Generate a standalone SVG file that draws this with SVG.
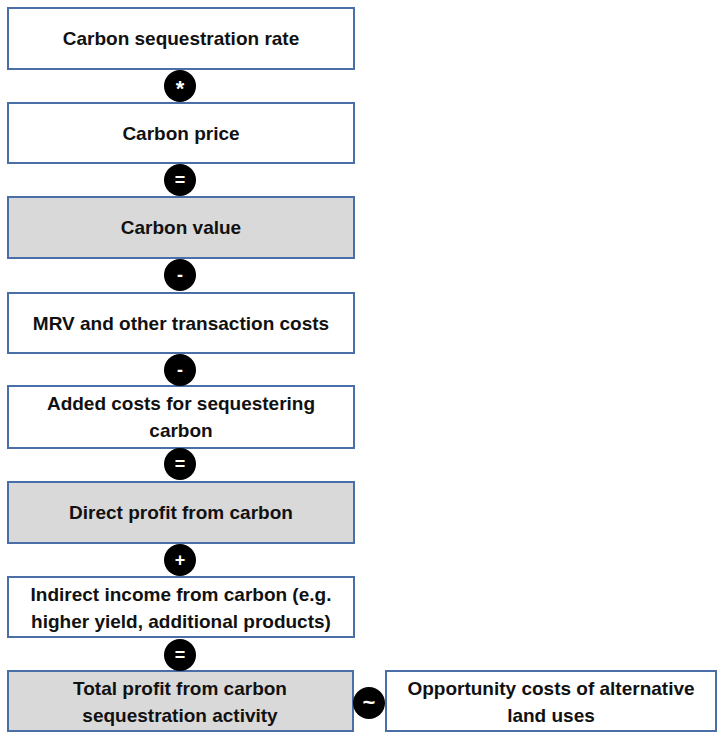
<svg xmlns="http://www.w3.org/2000/svg" width="717" height="732" viewBox="0 0 717 732">
<style>
.box{fill:#ffffff;stroke:#4a6ea8;stroke-width:2}
.grey{fill:#d9d9d9}
.t{font-family:"Liberation Sans",Arial,sans-serif;font-weight:bold;font-size:19px;fill:#111;text-anchor:middle}
.op{fill:#000}
.ot{font-family:"Liberation Sans",Arial,sans-serif;font-weight:bold;font-size:18px;fill:#fff;text-anchor:middle}
.big{font-size:22px}
</style>
<rect width="717" height="732" fill="#fff"/>
<g id="n1"><rect class="box" x="8" y="8" width="346" height="61"/><text class="t" x="181" y="45">Carbon sequestration rate</text></g>
<g id="n2"><rect class="box" x="8" y="103" width="346" height="60"/><text class="t" x="181" y="140">Carbon price</text></g>
<g id="n3"><rect class="box grey" x="8" y="197" width="346" height="61"/><text class="t" x="181" y="234">Carbon value</text></g>
<g id="n4"><rect class="box" x="8" y="293" width="346" height="60"/><text class="t" x="181" y="330">MRV and other transaction costs</text></g>
<g id="n5"><rect class="box" x="8" y="386" width="346" height="62"/><text class="t" x="181" y="410">Added costs for sequestering</text><text class="t" x="181" y="437">carbon</text></g>
<g id="n6"><rect class="box grey" x="8" y="482" width="346" height="61"/><text class="t" x="181" y="519">Direct profit from carbon</text></g>
<g id="n7"><rect class="box" x="8" y="577" width="346" height="60"/><text class="t" x="181" y="601">Indirect income from carbon (e.g.</text><text class="t" x="181" y="628">higher yield, additional products)</text></g>
<g id="n8"><rect class="box grey" x="8" y="671" width="345" height="60"/><text class="t" x="180" y="695">Total profit from carbon</text><text class="t" x="180" y="722">sequestration activity</text></g>
<g id="n9"><rect class="box" x="386" y="671" width="330" height="60"/><text class="t" x="551" y="695">Opportunity costs of alternative</text><text class="t" x="551" y="722">land uses</text></g>
<g id="connectors">
<circle class="op" cx="180" cy="86" r="16"/><text class="ot big" x="180" y="96">*</text>
<circle class="op" cx="180" cy="180" r="16"/><text class="ot" x="180" y="186">=</text>
<circle class="op" cx="180" cy="275" r="16"/><text class="ot" x="180" y="281">-</text>
<circle class="op" cx="180" cy="370" r="16"/><text class="ot" x="180" y="376">-</text>
<circle class="op" cx="180" cy="464" r="16"/><text class="ot" x="180" y="470">=</text>
<circle class="op" cx="180" cy="560" r="16"/><text class="ot" x="180" y="566">+</text>
<circle class="op" cx="180" cy="655" r="16"/><text class="ot" x="180" y="661">=</text>
<circle class="op" cx="369" cy="703" r="16"/><text class="ot big" x="369" y="710">~</text>
</g>
</svg>
